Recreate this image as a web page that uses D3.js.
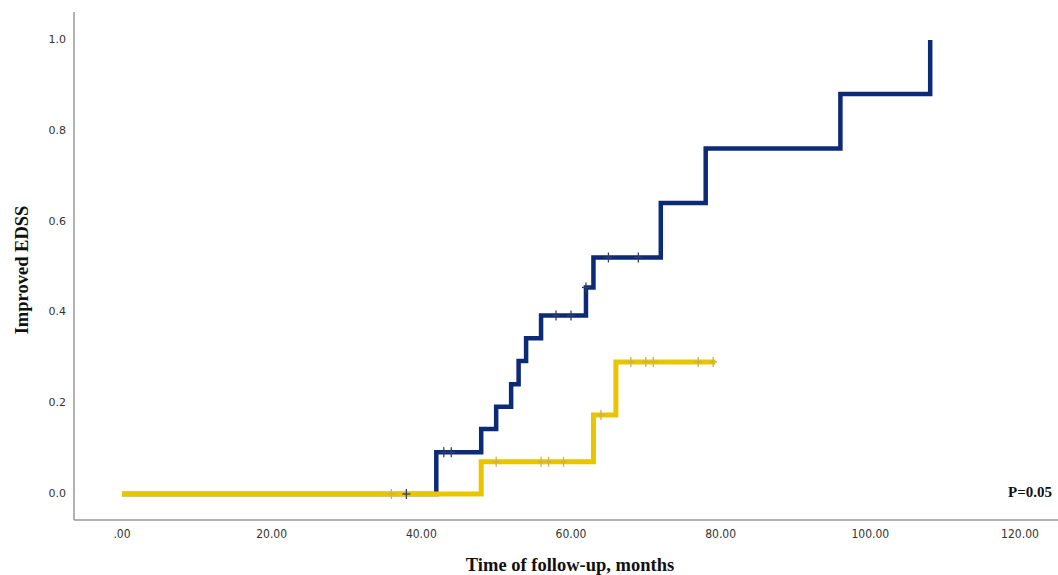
<!DOCTYPE html>
<html>
<head>
<meta charset="utf-8">
<script src="https://cdn.jsdelivr.net/npm/d3@7"></script>
<style>
    body { margin: 0; background: #fff; }
    .tick-y { font-family: "DejaVu Sans", sans-serif; font-size: 11px; fill: #333; }
    .tick-x { font-family: "DejaVu Sans", sans-serif; font-stretch: condensed; font-size: 12px; fill: #333; }
    .title { font-family: "Liberation Serif", serif; font-weight: bold; font-size: 18.5px; fill: #111; }
</style>
</head>
<body>
<svg id="chart" width="1058" height="575"></svg>
<script>
"use strict";

// step times (months) and cumulative improved fraction
var blueTimes = [0, 42, 48, 50, 52, 53, 54, 56, 62, 63, 72, 78, 96, 108];
var blueValues = [0, 0.092, 0.143, 0.192, 0.242, 0.293, 0.343, 0.393, 0.455, 0.521, 0.641, 0.761, 0.881, 1.0];
var blueCensor = [38, 43, 44, 58, 60, 62, 65, 69];

var yellowTimes = [0, 48, 63, 66, 79.3];
var yellowValues = [0, 0.071, 0.174, 0.291, 0.291];
var yellowCensor = [36, 50, 56, 57, 59, 64, 68, 70, 71, 77, 79];

var xTicks = [0, 20, 40, 60, 80, 100, 120];
var yTicks = [0, 0.2, 0.4, 0.6, 0.8, 1.0];

var svg = d3.select("#chart");
var x = d3.scaleLinear().domain([0, 120]).range([122, 1020]);
var y = d3.scaleLinear().domain([0, 1]).range([494, 40]);

// axes
svg.append("line").attr("x1", 74).attr("x2", 74).attr("y1", 12).attr("y2", 520)
    .attr("stroke", "#999").attr("stroke-width", 1.5);
svg.append("line").attr("x1", 74).attr("x2", 1058).attr("y1", 520).attr("y2", 520)
    .attr("stroke", "#999").attr("stroke-width", 1.5);

svg.selectAll(".tick-y").data(yTicks).enter().append("text")
    .attr("class", "tick-y")
    .attr("x", 66)
    .attr("y", function (d) { return y(d); })
    .attr("text-anchor", "end")
    .attr("dominant-baseline", "middle")
    .text(d3.format(".1f"));

svg.selectAll(".tick-x").data(xTicks).enter().append("text")
    .attr("class", "tick-x")
    .attr("x", function (d) { return x(d); })
    .attr("y", 534)
    .attr("text-anchor", "middle")
    .attr("dominant-baseline", "middle")
    .text(function (d) { var s = d3.format(".2f")(d); return d === 0 ? s.slice(1) : s; });

svg.append("text").attr("class", "title")
    .attr("x", 570).attr("y", 571)
    .attr("text-anchor", "middle")
    .text("Time of follow-up, months");

svg.append("text").attr("class", "title")
    .attr("transform", "translate(28, 270) rotate(-90)")
    .attr("text-anchor", "middle")
    .text("Improved EDSS");

svg.append("text").attr("class", "title")
    .attr("x", 1052).attr("y", 494)
    .attr("text-anchor", "end")
    .attr("dominant-baseline", "middle")
    .style("font-size", "15px")
    .text("P=0.05");

var line = d3.line()
    .x(function (d) { return x(d[0]); })
    .y(function (d) { return y(d[1]); })
    .curve(d3.curveStepAfter);

function stepValue(times, values, t) {
    var v = values[0];
    for (var i = 0; i < times.length; i++) {
        if (times[i] <= t) v = values[i];
    }
    return v;
}

var series = [
    { times: blueTimes, values: blueValues, censor: blueCensor, color: "#0d2a76", mark: "#2f3f63", width: 4.5 },
    { times: yellowTimes, values: yellowValues, censor: yellowCensor, color: "#e9c500", mark: "#c9b24a", width: 5 }
];

for (var i = 0; i < series.length; i++) {
    var s = series[i];
    svg.append("path")
        .datum(d3.zip(s.times, s.values))
        .attr("d", line)
        .attr("fill", "none")
        .attr("stroke", s.color)
        .attr("stroke-width", s.width)
        .attr("stroke-linejoin", "miter");
}

// censor marks drawn as small plus signs
for (var i = 0; i < series.length; i++) {
    var s = series[i];
    var g = svg.append("g").attr("stroke", s.mark).attr("stroke-width", 1.3);
    g.selectAll(".v").data(s.censor).enter().append("line")
        .attr("x1", function (d) { return x(d); })
        .attr("x2", function (d) { return x(d); })
        .attr("y1", function (d) { return y(stepValue(s.times, s.values, d)) - 5; })
        .attr("y2", function (d) { return y(stepValue(s.times, s.values, d)) + 5; });
    g.selectAll(".h").data(s.censor).enter().append("line")
        .attr("x1", function (d) { return x(d) - 4; })
        .attr("x2", function (d) { return x(d) + 4; })
        .attr("y1", function (d) { return y(stepValue(s.times, s.values, d)); })
        .attr("y2", function (d) { return y(stepValue(s.times, s.values, d)); });
}
</script>
</body>
</html>
